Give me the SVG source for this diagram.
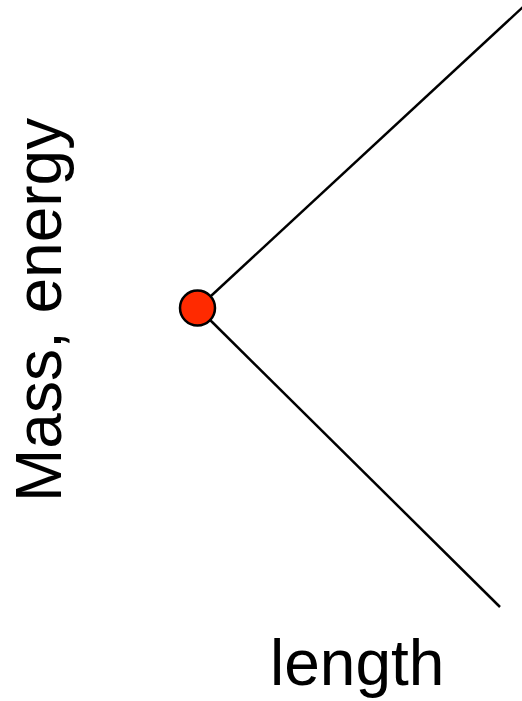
<svg xmlns="http://www.w3.org/2000/svg" width="522" height="701" viewBox="0 0 522 701">
<style>
.lbl{font-family:"Liberation Sans",Arial,sans-serif;font-size:64px;fill:#000}
.ln{stroke:#000;stroke-width:2.5;fill:none}
</style>
<rect width="522" height="701" fill="#fff"/>
<g id="connectors">
<line class="ln" x1="198" y1="308" x2="530" y2="0.5"/>
<line class="ln" x1="198" y1="308" x2="500" y2="607"/>
</g>
<g id="node-point">
<circle cx="197.5" cy="308" r="17.5" fill="#ff2a00" stroke="#000" stroke-width="2.5"/>
</g>
<g id="label-y">
<text class="lbl" transform="translate(61,502) rotate(-90)">Mass, energy</text>
</g>
<g id="label-x">
<text class="lbl" x="270" y="685">length</text>
</g>
</svg>
